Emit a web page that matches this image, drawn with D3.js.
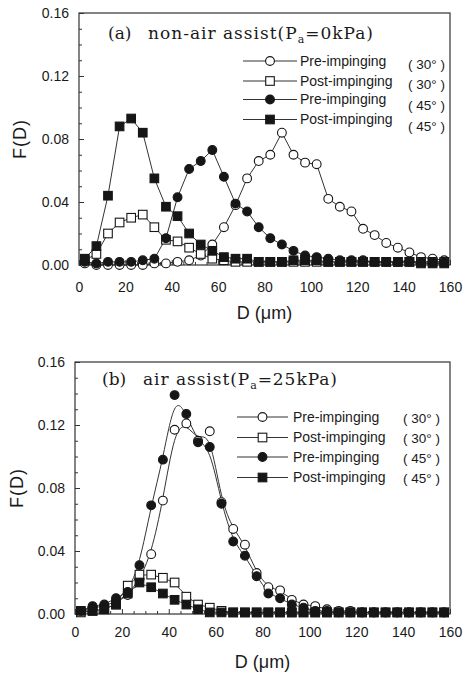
<!DOCTYPE html>
<html><head><meta charset="utf-8">
<script src="https://cdn.jsdelivr.net/npm/d3@7"></script>
<style>
html,body{margin:0;padding:0;background:#fff;}
svg{display:block;}
text{fill:#1a1a1a;}
</style></head>
<body>
<svg id="c" width="463" height="675"></svg>
<script>
// Droplet diameter bin centres (μm)
const diameters = [2.5,7.5,12.5,17.5,22.5,27.5,32.5,37.5,42.5,47.5,52.5,57.5,62.5,67.5,72.5,77.5,82.5,87.5,92.5,97.5,102.5,107.5,112.5,117.5,122.5,127.5,132.5,137.5,142.5,147.5,152.5,157.5];

// (a) non-air assist, Pa = 0 kPa
const aPre30  = [0.001,0.000,0.000,0.000,0.000,0.000,0.001,0.001,0.002,0.003,0.006,0.013,0.024,0.038,0.055,0.066,0.070,0.084,0.070,0.065,0.064,0.042,0.037,0.034,0.023,0.019,0.014,0.011,0.008,0.005,0.004,0.003];
const aPost30 = [0.003,0.007,0.020,0.027,0.030,0.032,0.024,0.016,0.015,0.011,0.007,0.004,0.003,0.002,0.002,0.002,0.002,0.002,0.002,0.002,0.002,0.002,0.002,0.002,0.002,0.002,0.002,0.002,0.002,0.002,0.002,0.002];
const aPre45  = [0.002,0.001,0.002,0.002,0.002,0.003,0.004,0.017,0.043,0.061,0.066,0.073,0.056,0.039,0.034,0.024,0.017,0.013,0.009,0.006,0.005,0.004,0.003,0.003,0.003,0.002,0.002,0.002,0.002,0.002,0.002,0.002];
const aPost45 = [0.004,0.012,0.044,0.088,0.093,0.084,0.055,0.037,0.031,0.020,0.013,0.009,0.005,0.004,0.004,0.002,0.002,0.002,0.003,0.003,0.003,0.002,0.002,0.002,0.002,0.002,0.002,0.002,0.002,0.001,0.001,0.001];

// (b) air assist, Pa = 25 kPa
const bPre30  = [0.002,0.004,0.005,0.008,0.012,0.022,0.038,0.072,0.117,0.121,0.110,0.116,0.071,0.054,0.044,0.026,0.017,0.015,0.009,0.006,0.005,0.003,0.002,0.002,0.001,0.001,0.001,0.001,0.001,0.001,0.001,0.001];
const bPost30 = [0.001,0.002,0.003,0.006,0.018,0.025,0.025,0.023,0.020,0.011,0.006,0.004,0.002,0.001,0.001,0.001,0.001,0.001,0.001,0.001,0.001,0.001,0.001,0.001,0.001,0.001,0.001,0.001,0.001,0.001,0.001,0.001];
const bPre45  = [0.002,0.005,0.006,0.010,0.014,0.031,0.069,0.098,0.139,0.127,0.109,0.106,0.070,0.046,0.037,0.024,0.013,0.010,0.006,0.004,0.002,0.002,0.001,0.001,0.001,0.001,0.001,0.001,0.001,0.001,0.001,0.001];
const bPost45 = [0.002,0.002,0.003,0.006,0.013,0.020,0.017,0.013,0.009,0.006,0.003,0.001,0.001,0.001,0.001,0.001,0.001,0.001,0.001,0.001,0.001,0.001,0.001,0.001,0.001,0.001,0.001,0.001,0.001,0.001,0.001,0.001];

const seriesNames = ["Pre-impinging","Post-impinging","Pre-impinging","Post-impinging"];
const seriesAngles = ["( 30° )","( 30° )","( 45° )","( 45° )"];
const seriesMarkers = ["circle-open","square-open","circle-filled","square-filled"];

const xTicks = [0,20,40,60,80,100,120,140,160];
const xMinorTicks = [5,10,15,25,30,35,45,50,55,65,70,75,85,90,95,105,110,115,125,130,135,145,150,155];
const yTicks = [0.00,0.04,0.08,0.12,0.16];
const yMinorTicks = [0.01,0.02,0.03,0.05,0.06,0.07,0.09,0.10,0.11,0.13,0.14,0.15];

const panels = [
  {series:[aPre30,aPost30,aPre45,aPost45], xr:[79,450], yr:[265,13], curve:d3.curveLinear,
   titleA:"(a)", titleAx:108, titleBx:148, titleY:39, titleLen:225, titleRest:"=0kPa)", titleMain:"non-air assist(P",
   xPad:17, yLabX:20, xLabY:319,
   leg:{lx0:243, lx1:297, tx:300, ax:408, ys:[61,81,99.5,119.5], ady:[3,3,6,7]}},
  {series:[bPre30,bPost30,bPre45,bPost45], xr:[75,450], yr:[614,362], curve:d3.curveBasis,
   titleA:"(b)", titleAx:102, titleBx:143, titleY:385, titleLen:194, titleRest:"=25kPa)", titleMain:"air assist(P",
   xPad:13, yLabX:17, xLabY:668,
   leg:{lx0:237, lx1:288, tx:293, ax:403, ys:[417,437.5,457,477.5], ady:[1,1,1,1]}}
];

const svg = d3.select("#c");
const INK = "#161616";

function marker(g, type, cx, cy) {
  if (type.startsWith("circle")) {
    g.append("circle").attr("cx",cx).attr("cy",cy).attr("r",4.4)
      .attr("fill", type.endsWith("filled") ? INK : "#fff")
      .attr("stroke",INK).attr("stroke-width",1.1);
  } else {
    g.append("rect").attr("x",cx-4.3).attr("y",cy-4.3).attr("width",8.6).attr("height",8.6)
      .attr("fill", type.endsWith("filled") ? INK : "#fff")
      .attr("stroke",INK).attr("stroke-width",1.1);
  }
}

panels.forEach(p => {
  const x = d3.scaleLinear().domain([0,160]).range(p.xr);
  const y = d3.scaleLinear().domain([0,0.16]).range(p.yr);
  const g = svg.append("g");

  // frame
  g.append("rect").attr("x",p.xr[0]).attr("y",p.yr[1])
    .attr("width",p.xr[1]-p.xr[0]).attr("height",p.yr[0]-p.yr[1])
    .attr("fill","none").attr("stroke","#333").attr("stroke-width",1.2);

  // y axis
  const ya = g.append("g").attr("transform",`translate(${p.xr[0]},0)`)
    .call(d3.axisLeft(y).tickValues(yTicks).tickSize(-5).tickPadding(10).tickFormat(d3.format(".2f")));
  const ym = g.append("g").attr("transform",`translate(${p.xr[0]},0)`)
    .call(d3.axisLeft(y).tickValues(yMinorTicks).tickSize(-3).tickFormat(""));
  // x axis
  const xa = g.append("g").attr("transform",`translate(0,${p.yr[0]})`)
    .call(d3.axisBottom(x).tickValues(xTicks).tickSize(-5).tickPadding(p.xPad).tickFormat(d3.format("d")));
  const xm = g.append("g").attr("transform",`translate(0,${p.yr[0]})`)
    .call(d3.axisBottom(x).tickValues(xMinorTicks).tickSize(-3).tickFormat(""));
  [ya,ym,xa,xm].forEach(a => {
    a.select(".domain").remove();
    a.selectAll("line").attr("stroke","#333");
    a.selectAll("text").attr("font-family","'Liberation Sans', Arial, sans-serif")
      .attr("font-size",14).attr("fill","#222");
  });

  // axis titles
  g.append("text").attr("transform",`translate(${p.yLabX},${(p.yr[0]+p.yr[1])/2}) rotate(-90)`)
    .attr("text-anchor","middle").attr("dy","0.35em")
    .attr("font-family","'Liberation Sans', Arial, sans-serif").attr("font-size",18)
    .attr("letter-spacing",1).text("F(D)");
  g.append("text").attr("x",(p.xr[0]+p.xr[1])/2).attr("y",p.xLabY)
    .attr("text-anchor","middle")
    .attr("font-family","'Liberation Sans', Arial, sans-serif").attr("font-size",18)
    .text("D (μm)");

  // panel title
  const serif = "'DejaVu Serif', 'Liberation Serif', serif";
  g.append("text").attr("x",p.titleAx).attr("y",p.titleY)
    .attr("font-family",serif).attr("font-size",17)
    .text(p.titleA);
  const t = g.append("text").attr("x",p.titleBx).attr("y",p.titleY)
    .attr("font-family",serif).attr("font-size",17)
    .attr("textLength",p.titleLen).attr("lengthAdjust","spacing");
  t.append("tspan").text(p.titleMain);
  t.append("tspan").attr("font-size",11).attr("dy",4).text("a");
  t.append("tspan").attr("dy",-4).text(p.titleRest);

  // series
  const line = d3.line().x((d,i)=>x(diameters[i])).y(d=>y(d)).curve(p.curve);
  p.series.forEach((s,k) => {
    g.append("path").datum(s).attr("d",line)
      .attr("fill","none").attr("stroke","#333").attr("stroke-width",1);
  });
  p.series.forEach((s,k) => {
    const mg = g.append("g");
    s.forEach((v,i) => marker(mg, seriesMarkers[k], x(diameters[i]), y(v)));
  });

  // legend
  const L = p.leg;
  L.ys.forEach((ly,k) => {
    const lg = g.append("g");
    lg.append("line").attr("x1",L.lx0).attr("x2",L.lx1).attr("y1",ly).attr("y2",ly)
      .attr("stroke","#333").attr("stroke-width",1);
    marker(lg, seriesMarkers[k], (L.lx0+L.lx1)/2, ly);
    lg.append("text").attr("x",L.tx).attr("y",ly).attr("dy","0.35em")
      .attr("font-family","'Liberation Sans', Arial, sans-serif").attr("font-size",14)
      .text(seriesNames[k]);
    lg.append("text").attr("x",L.ax).attr("y",ly+L.ady[k]).attr("dy","0.35em")
      .attr("font-family","'Liberation Sans', Arial, sans-serif").attr("font-size",13.5)
      .text(seriesAngles[k]);
  });
});
</script>
</body></html>
